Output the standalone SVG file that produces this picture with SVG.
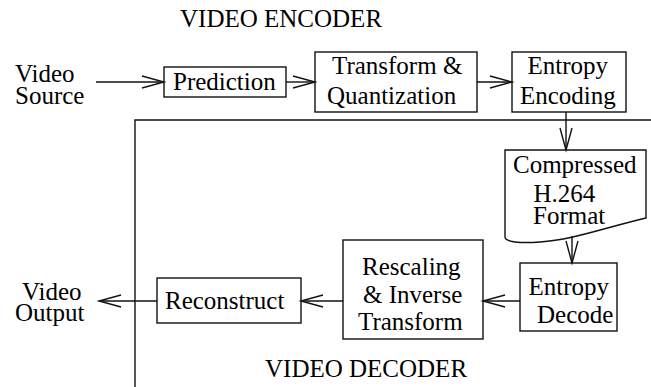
<svg xmlns="http://www.w3.org/2000/svg" width="651" height="387" viewBox="0 0 651 387">
  <style>
    .lbl { font-family: 'Liberation Serif', 'DejaVu Serif', 'Times New Roman', Times, serif; font-size: 25px; fill: #000; }
    .box { fill: none; stroke: #111; stroke-width: 1.4; }
    .wire { fill: none; stroke: #111; stroke-width: 1.4; }
    .frame { fill: none; stroke: #111; stroke-width: 1.4; }
  </style>
  <defs>
    <!-- open chevron arrowhead, drawn in user units -->
    <marker id="chev" markerUnits="userSpaceOnUse" markerWidth="24" markerHeight="14" refX="22" refY="7" orient="auto" overflow="visible">
      <polyline points="0,1 22,7 0,13" fill="none" stroke="#111" stroke-width="1.4"/>
    </marker>
  </defs>

  <rect width="651" height="387" fill="#fff"/>

  <g class="lbl" font-family="Liberation Serif, DejaVu Serif, serif">
    <!-- section titles -->
    <text id="title-encoder" x="180" y="27">VIDEO ENCODER</text>
    <text id="title-decoder" x="265" y="377">VIDEO DECODER</text>
  </g>

  <!-- decoder frame -->
  <path class="frame" d="M135,387 V120 H651"/>

  <!-- terminals -->
  <g id="video-source" class="lbl">
    <text x="15" y="82">Video</text>
    <text x="15" y="104">Source</text>
  </g>
  <g id="video-output" class="lbl">
    <text x="22" y="300">Video</text>
    <text x="15" y="321">Output</text>
  </g>

  <!-- encoder nodes -->
  <g id="prediction" class="lbl">
    <rect class="box" x="164" y="67" width="122" height="30"/>
    <text x="173" y="90">Prediction</text>
  </g>
  <g id="transform-quant" class="lbl">
    <rect class="box" x="315" y="52" width="162" height="60"/>
    <text x="332" y="74">Transform &amp;</text>
    <text x="327" y="103.5">Quantization</text>
  </g>
  <g id="entropy-encoding" class="lbl">
    <rect class="box" x="512" y="52" width="114" height="60"/>
    <text x="527.5" y="74">Entropy</text>
    <text x="520" y="104">Encoding</text>
  </g>
  <g id="compressed" class="lbl">
    <path class="box" d="M505,150 H646 V218 C600,229 572,240 540,242 C520,243.5 505,242 505,237 Z"/>
    <text x="513" y="173">Compressed</text>
    <text x="533.5" y="202">H.264</text>
    <text x="533" y="224">Format</text>
  </g>

  <!-- decoder nodes -->
  <g id="entropy-decode" class="lbl">
    <rect class="box" x="520" y="263" width="97" height="68"/>
    <text x="528.5" y="295">Entropy</text>
    <text x="537" y="322.5">Decode</text>
  </g>
  <g id="rescaling" class="lbl">
    <rect class="box" x="343" y="240" width="140" height="99"/>
    <text x="362" y="274.5">Rescaling</text>
    <text x="363" y="303">&amp; Inverse</text>
    <text x="358" y="330">Transform</text>
  </g>
  <g id="reconstruct" class="lbl">
    <rect class="box" x="157" y="278" width="144" height="45"/>
    <text x="165" y="309">Reconstruct</text>
  </g>

  <!-- connectors -->
  <g id="connectors">
    <line class="wire" x1="96" y1="82" x2="164" y2="82" marker-end="url(#chev)"/>
    <line class="wire" x1="286" y1="82" x2="315" y2="82" marker-end="url(#chev)"/>
    <line class="wire" x1="477" y1="82" x2="512" y2="82" marker-end="url(#chev)"/>
    <line class="wire" x1="566" y1="112" x2="566" y2="150" marker-end="url(#chev)"/>
    <line class="wire" x1="572" y1="236" x2="572" y2="263" marker-end="url(#chev)"/>
    <line class="wire" x1="520" y1="301" x2="483" y2="301" marker-end="url(#chev)"/>
    <line class="wire" x1="343" y1="301" x2="301" y2="301" marker-end="url(#chev)"/>
    <line class="wire" x1="157" y1="301" x2="99" y2="301" marker-end="url(#chev)"/>
  </g>
</svg>
